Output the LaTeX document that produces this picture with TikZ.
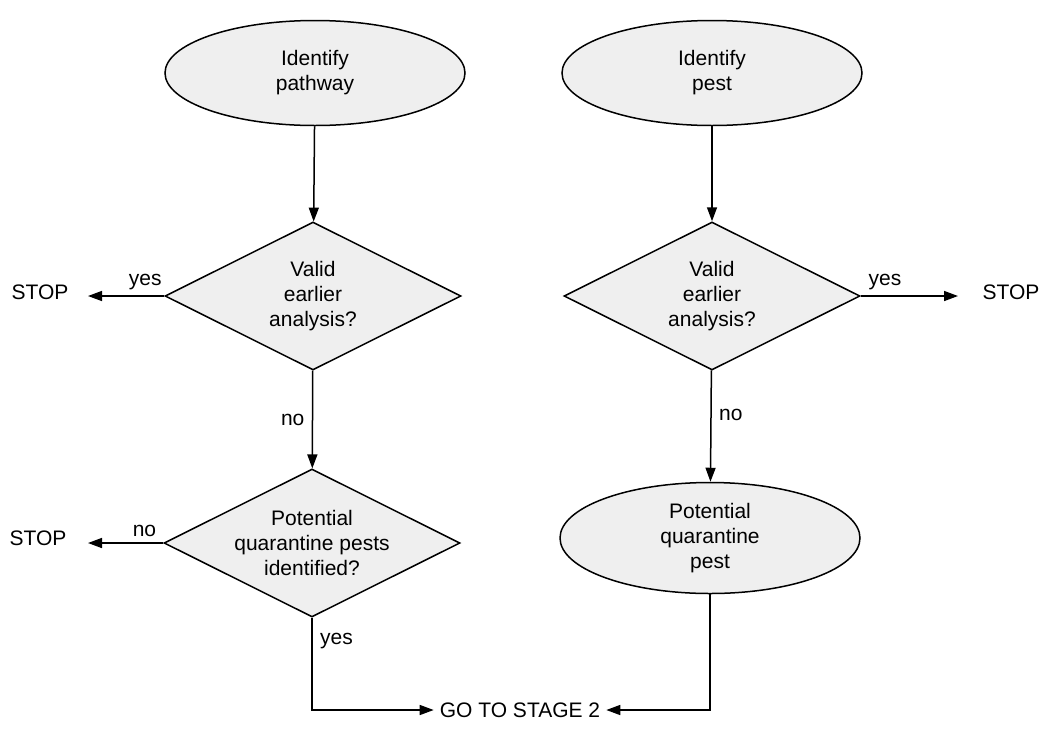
\documentclass[tikz,border=0pt]{standalone}
\usepackage{fontspec}
\setmainfont{Liberation Sans}
\usetikzlibrary{shapes.geometric,arrows.meta}
\tikzset {>={Triangle[length=14pt,width=10pt]}}
\definecolor{boxgray}{HTML}{EFEFEF}
\tikzset{
  startstop/.style={ellipse,draw,line width=1.5pt,fill=boxgray,minimum width=300pt,minimum height=105pt,inner sep=0pt,align=center},
  decision/.style={diamond,draw,line width=1.5pt,fill=boxgray,aspect=2,minimum width=296pt,minimum height=148pt,inner sep=-3pt,align=center},
  outcome/.style={inner sep=0pt},
  flow/.style={line width=1.5pt,->}
}

\begin{document}
\begin{tikzpicture}[x=1pt,y=-1pt,font=\fontsize{21}{25}\selectfont]
\useasboundingbox (0,0) rectangle (1044,742);
\node[startstop] (pathway) at (315,73) {Identify\\pathway};
\node[startstop] (pest) at (712,73) {Identify\\pest};
\node[decision] (validL) at (313,296) {Valid\\earlier\\analysis?};
\node[decision] (validR) at (712,296) {Valid\\earlier\\analysis?};
\node[decision] (potential) at (312,543) {Potential\\quarantine pests\\identified?};
\node[startstop,minimum height=111pt] (qpest) at (710,538) {Potential\\quarantine\\pest};
\node[outcome] (stopA) at (40,292) {STOP};
\node[outcome] (stopB) at (1011,292) {STOP};
\node[outcome] (stopC) at (38,538) {STOP};
\node[outcome] (stage) at (520,710) {GO TO STAGE 2};
\draw[flow] (pathway) -- (validL);
\draw[flow] (pest) -- (validR);
\draw[flow] (validL.west) -- node[near start,above,yshift=2pt] {yes} (88,296);
\draw[flow] (validR.east) -- node[near start,above,yshift=2pt] {yes} (958,296);
\draw[flow] (validL) -- node[left,xshift=-4pt] {no} (potential);
\draw[flow] (validR) -- node[pos=.4,right,xshift=4pt] {no} (qpest);
\draw[flow] (potential.west) -- node[near start,above,yshift=2pt] {no} (88,543);
\draw[flow] (potential.south) |- node[very near start,right,xshift=4pt] {yes} ([xshift=-6pt]stage.west);
\draw[flow] (qpest.south) |- ([xshift=6pt]stage.east);
\end{tikzpicture}
\end{document}
